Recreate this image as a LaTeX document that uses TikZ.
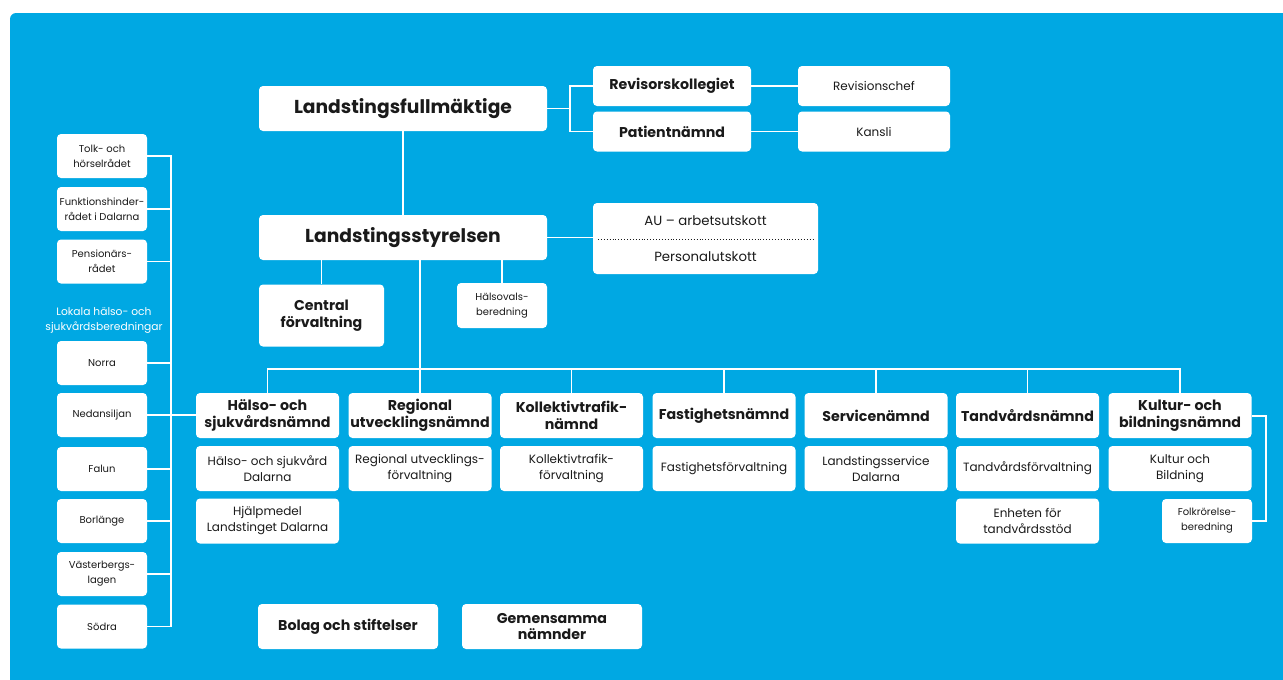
\documentclass[tikz,border=0pt]{standalone}
\usepackage{fontspec}
\setmainfont{Poppins}
\definecolor{lsblue}{HTML}{00A8E3}
\definecolor{ink}{HTML}{1A1A1A}
\tikzset{
	box/.style 2 args={rectangle,rounded corners=4pt,fill=white,text=ink,align=center,inner sep=0pt,minimum width=#1,minimum height=#2},
	hbox/.style 2 args={box={#1}{#2},font=\bfseries\fontsize{18.7}{21}\selectfont},
	nbox/.style 2 args={box={#1}{#2},font=\bfseries\fontsize{14.2}{16.5}\selectfont},
	tbox/.style 2 args={box={#1}{#2},font=\fontsize{12}{16}\selectfont},
	sbox/.style 2 args={box={#1}{#2},font=\fontsize{10}{15}\selectfont},
	link/.style={draw=white,line width=1.2pt}
}

\begin{document}
\begin{tikzpicture}[x=1pt,y=-1pt]
	\useasboundingbox (0,0) rectangle (1283,680);
	\fill[lsblue,rounded corners=6pt] (10,700) -- (10,13) -- (1300,13) -- (1300,700) -- cycle;

	% top
	\node [hbox={288pt}{45pt}] (fm) at (403,108.5) {Landstingsfullmäktige};
	\node [nbox={158pt}{40pt}] (rk) at (672,86) {Revisorskollegiet};
	\node [nbox={158pt}{40pt}] (pn) at (672,131.5) {Patientnämnd};
	\node [tbox={152pt}{40pt}] (rc) at (874,86) {Revisionschef};
	\node [tbox={152pt}{40pt}] (ka) at (874,131.5) {Kansli};
	\coordinate (fmr) at (570,108.5);

	\node [hbox={288pt}{45pt}] (fs) at (403,237.5) {Landstingsstyrelsen};
	\node [box={225pt}{71pt}] (au) at (705.5,238.5) {};
	\node [font=\fontsize{13.3}{15}\selectfont,text=ink] (aut) at (705.5,221) {AU – arbetsutskott};
	\node [font=\fontsize{13.3}{15}\selectfont,text=ink] (put) at (705.5,257) {Personalutskott};
	\draw [ink,dotted,line width=0.9pt] (598,239) -- (815,239);
	\node [nbox={125pt}{62pt}] (cf) at (321.5,315.5) {Central\\förvaltning};
	\node [sbox={90pt}{45pt}] (hv) at (502,305.5) {Hälsovals-\\beredning};

	% nämnder
	\node [nbox={143pt}{45pt}] (hsn) at (267.5,415.5) {Hälso- och\\sjukvårdsnämnd};
	\node [nbox={143pt}{45pt}] (run) at (420,415.5) {Regional\\utvecklingsnämnd};
	\node [nbox={143pt}{45pt}] (ktn) at (571.5,415.5) {Kollektivtrafik-\\nämnd};
	\node [nbox={143pt}{45pt}] (fan) at (724,415.5) {Fastighetsnämnd};
	\node [nbox={143pt}{45pt}] (sen) at (876,415.5) {Servicenämnd};
	\node [nbox={143pt}{45pt}] (tan) at (1027.5,415.5) {Tandvårdsnämnd};
	\node [nbox={143pt}{45pt}] (kbn) at (1180,415.5) {Kultur- och\\bildningsnämnd};
	\coordinate (bus) at (420,369);

	\node [tbox={143pt}{45pt}] (hsd) at (267.5,468.5) {Hälso- och sjukvård\\Dalarna};
	\node [tbox={143pt}{45pt}] (hld) at (267.5,521) {Hjälpmedel\\Landstinget Dalarna};
	\node [tbox={143pt}{45pt}] (ruf) at (420,468.5) {Regional utvecklings-\\förvaltning};
	\node [tbox={143pt}{45pt}] (ktf) at (571.5,468.5) {Kollektivtrafik-\\förvaltning};
	\node [tbox={143pt}{45pt}] (faf) at (724,468.5) {Fastighetsförvaltning};
	\node [tbox={143pt}{45pt}] (lsd) at (876,468.5) {Landstingsservice\\Dalarna};
	\node [tbox={143pt}{45pt}] (taf) at (1027.5,468.5) {Tandvårdsförvaltning};
	\node [tbox={143pt}{45pt}] (etv) at (1027.5,521) {Enheten för\\tandvårdsstöd};
	\node [tbox={143pt}{45pt}] (kob) at (1180,468.5) {Kultur och\\Bildning};
	\node [sbox={90pt}{44pt}] (fkb) at (1207,521) {Folkrörelse-\\beredning};
	\coordinate (kr) at (1266,416);

	% råd och beredningar
	\node [sbox={90pt}{44pt}] (tolk) at (102,156) {Tolk- och\\hörselrådet};
	\node [sbox={90pt}{44pt}] (funk) at (102,209) {Funktionshinder-\\rådet i Dalarna};
	\node [sbox={90pt}{44pt}] (pens) at (102,261.5) {Pensionärs-\\rådet};
	\node [font=\fontsize{10.7}{15}\selectfont,text=white,align=center] (lok) at (104,320) {Lokala hälso- och\\sjukvårdsberedningar};
	\node [sbox={90pt}{44pt}] (norra) at (102,363) {Norra};
	\node [sbox={90pt}{44pt}] (ned) at (102,415) {Nedansiljan};
	\node [sbox={90pt}{44pt}] (falun) at (102,469) {Falun};
	\node [sbox={90pt}{44pt}] (borl) at (102,521) {Borlänge};
	\node [sbox={90pt}{44pt}] (vbl) at (102,574) {Västerbergs-\\lagen};
	\node [sbox={90pt}{44pt}] (sodra) at (102,626.5) {Södra};
	\coordinate (lv) at (171,156);

	% bolag
	\node [nbox={180pt}{45pt}] (bos) at (348,626.5) {Bolag och stiftelser};
	\node [nbox={180pt}{45pt}] (gem) at (552,626.5) {Gemensamma\\nämnder};

	\draw [link] (fm) -- (fs);
	\draw [link] (fm.east) -- (fmr);
	\draw [link] (rk.west) -| (fmr) |- (pn.west);
	\draw [link] (rk) -- (rc);
	\draw [link] (pn) -- (ka);
	\draw [link] (fs.east) -- (au.west |- fs.east);
	\draw [link] (cf.north |- fs.south) -- (cf.north);
	\draw [link] (hv.north |- fs.south) -- (hv.north);
	\draw [link] (run.north |- fs.south) -- (run.north);
	\draw [link] (hsn.north) |- (bus) -| (kbn.north);
	\draw [link] (ktn.north) -- (ktn.north |- bus);
	\draw [link] (fan.north) -- (fan.north |- bus);
	\draw [link] (sen.north) -- (sen.north |- bus);
	\draw [link] (tan.north) -- (tan.north |- bus);
	\draw [link] (kbn.east |- kr) -- (kr) |- (fkb.east);

	\draw [link] (tolk.east) -- (tolk.east -| lv) -- (sodra.east -| lv) -- (sodra.east);
	\draw [link] (funk.east) -- (funk.east -| lv);
	\draw [link] (pens.east) -- (pens.east -| lv);
	\draw [link] (norra.east) -- (norra.east -| lv);
	\draw [link] (ned.east) -- (ned.east -| hsn.west);
	\draw [link] (falun.east) -- (falun.east -| lv);
	\draw [link] (borl.east) -- (borl.east -| lv);
	\draw [link] (vbl.east) -- (vbl.east -| lv);
\end{tikzpicture}
\end{document}
